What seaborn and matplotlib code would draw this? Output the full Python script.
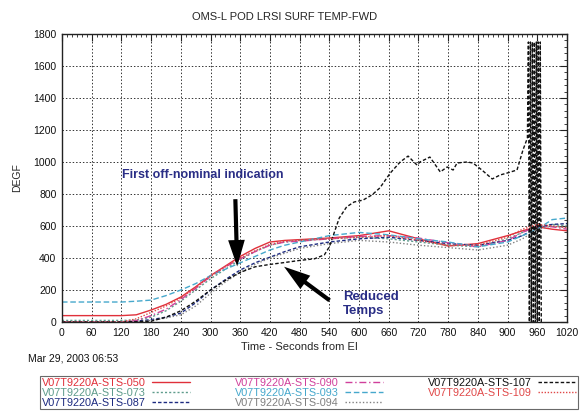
import matplotlib
matplotlib.use("Agg")
import matplotlib.pyplot as plt
from matplotlib.ticker import MultipleLocator
import seaborn as sns
import pandas as pd

sns.set_theme(style="white")
plt.rcParams['font.family'] = ['Liberation Sans', 'DejaVu Sans']

# ---------------- data ----------------
t_common = [0, 60, 120, 150, 180, 210, 240, 270, 300, 330, 360, 390, 420, 450, 480,
            540, 600, 660, 720, 780, 840, 900, 930, 960, 990, 1020]
sts050 = [40, 40, 40, 45, 75, 110, 156, 220, 290, 350, 410, 460, 500, 510, 515,
          525, 540, 570, 520, 475, 490, 540, 570, 595, 580, 570]
sts073 = [10, 10, 10, 12, 30, 70, 130, 200, 270, 330, 390, 440, 480, 500, 510,
          520, 530, 520, 500, 480, 470, 520, 560, 600, 610, 600]
sts087 = [0, 0, 0, 5, 15, 30, 56, 120, 200, 265, 325, 370, 405, 440, 470,
          500, 520, 530, 510, 490, 480, 510, 540, 590, 610, 615]
sts090 = [0, 0, 0, 8, 40, 80, 140, 210, 285, 345, 395, 440, 480, 500, 505,
          520, 535, 540, 525, 495, 470, 510, 560, 600, 595, 580]
sts093 = [125, 125, 125, 130, 137, 165, 200, 240, 290, 330, 370, 410, 450, 480, 500,
          540, 560, 545, 520, 500, 470, 500, 540, 580, 640, 650]
sts094 = [0, 0, 0, 0, 10, 25, 45, 100, 180, 250, 310, 360, 400, 430, 460,
          490, 510, 500, 480, 465, 450, 480, 520, 580, 600, 590]
sts109 = [0, 0, 0, 20, 60, 100, 150, 215, 285, 345, 400, 445, 485, 505, 510,
          520, 530, 540, 510, 480, 480, 530, 580, 610, 600, 590]

t107 = [0, 60, 120, 180, 210, 240, 270, 300, 330, 360, 390, 420, 450, 480, 510, 530,
        540, 550, 560, 575, 590, 608, 626, 642, 663, 683, 699, 717, 723, 743, 757,
        764, 778, 790, 798, 818, 830, 848, 869, 885, 899, 919, 931, 940,
        942, 944, 946, 948, 950, 952, 954, 956, 958, 960, 962, 964, 966, 968]
sts107 = [0, 0, 0, 5, 30, 70, 130, 200, 260, 310, 345, 360, 372, 385, 395, 420,
          470, 560, 650, 720, 750, 762, 794, 838, 931, 1000, 1037, 981, 1000, 1031, 969,
          938, 969, 950, 994, 1000, 994, 950, 894, 919, 931, 950, 1075, 1150,
          1750, 0, 1750, 0, 1750, 0, 1750, 0, 1750, 0, 1750, 0, 1750, 0]

labels = ["V07T9220A-STS-050", "V07T9220A-STS-073", "V07T9220A-STS-087",
          "V07T9220A-STS-090", "V07T9220A-STS-093", "V07T9220A-STS-094",
          "V07T9220A-STS-107", "V07T9220A-STS-109"]
x_ticks = list(range(0, 1021, 60))
y_ticks = list(range(0, 1801, 200))

# ---------------- styles ----------------
styles = {
    "V07T9220A-STS-050": dict(color="#e0303a", ls="-", lw=1.0),
    "V07T9220A-STS-073": dict(color="#5f9c8c", ls=(0, (1.5, 1.5)), lw=1.0),
    "V07T9220A-STS-087": dict(color="#1c2a80", ls=(0, (2.5, 1.5)), lw=1.0),
    "V07T9220A-STS-090": dict(color="#d0409c", ls=(0, (5, 2, 1, 2)), lw=1.0),
    "V07T9220A-STS-093": dict(color="#46a8cc", ls=(0, (4, 2)), lw=1.0),
    "V07T9220A-STS-094": dict(color="#808080", ls=(0, (1, 1.5)), lw=1.0),
    "V07T9220A-STS-107": dict(color="#111111", ls=(0, (2.5, 1.5)), lw=1.0),
    "V07T9220A-STS-109": dict(color="#e04848", ls=(0, (1, 1.2)), lw=1.0),
}

series = {
    "V07T9220A-STS-050": (t_common, sts050),
    "V07T9220A-STS-073": (t_common, sts073),
    "V07T9220A-STS-087": (t_common, sts087),
    "V07T9220A-STS-090": (t_common, sts090),
    "V07T9220A-STS-093": (t_common, sts093),
    "V07T9220A-STS-094": (t_common, sts094),
    "V07T9220A-STS-107": (t107, sts107),
    "V07T9220A-STS-109": (t_common, sts109),
}

fig = plt.figure(figsize=(5.83, 4.11), dpi=100)
fig.patch.set_facecolor("white")
ax = fig.add_axes([0.1063, 0.2165, 0.8663, 0.7008])
ax.set_facecolor("white")

for name in labels:
    tx, vy = series[name]
    df = pd.DataFrame({"t": tx, "v": vy})
    st = styles[name]
    sns.lineplot(data=df, x="t", y="v", ax=ax, color=st["color"], linestyle=st["ls"],
                 linewidth=st["lw"], estimator=None, sort=False, label=name, legend=False)

ax.set_xlim(0, 1020)
ax.set_ylim(0, 1800)
ax.set_xticks(x_ticks)
ax.set_yticks(y_ticks)
ax.xaxis.set_minor_locator(MultipleLocator(10))
ax.yaxis.set_minor_locator(MultipleLocator(40))
ax.tick_params(which="both", direction="in", top=True, right=True, colors="#222222",
               labelcolor="#111111")
ax.tick_params(which="major", length=5, width=0.8, labelsize=7.5, pad=4)
ax.tick_params(which="minor", length=2.5, width=0.6)
ax.grid(True, which="major", color="#333333", linestyle=(0, (1.5, 2)), linewidth=0.7)
for s in ax.spines.values():
    s.set_color("#222222")
    s.set_linewidth(1.0)

ax.set_xlabel("Time - Seconds from EI", fontsize=8, labelpad=3, x=0.47)
ax.set_ylabel("DEGF", fontsize=7.5, labelpad=8)
ax.set_title("OMS-L POD LRSI SURF TEMP-FWD", fontsize=8, pad=10, x=0.44)

# annotations
ax.text(285, 919, "First off-nominal indication", color="#2a2e86", fontsize=9,
        fontweight="bold", ha="center", va="center")
ax.annotate("", xy=(354, 330), xytext=(350, 785),
            arrowprops=dict(arrowstyle="simple,head_width=1.2,head_length=1.9,tail_width=0.3",
                            mutation_scale=10, color="black", lw=0))
ax.annotate("", xy=(444, 356), xytext=(545, 125),
            arrowprops=dict(arrowstyle="simple,head_width=1.2,head_length=1.9,tail_width=0.3",
                            mutation_scale=10, color="black", lw=0))
ax.text(568, 112, "Reduced\nTemps", color="#2a2e86", fontsize=9.5, fontweight="bold",
        ha="left", va="center", linespacing=1.15)

fig.text(28 / 583, 1 - 358 / 411, "Mar 29, 2003 06:53", fontsize=7.5, va="center",
         ha="left", color="#111111")

handles, labs = ax.get_legend_handles_labels()
order = [labs.index(n) for n in labels]
handles = [handles[i] for i in order]
labs = [labs[i] for i in order]
leg = fig.legend(handles, labs, ncol=3, loc="upper left",
                 bbox_to_anchor=(40 / 583, 0, 538 / 583, 1 - 376 / 411), mode="expand",
                 markerfirst=False, fontsize=7.8, frameon=True, fancybox=False,
                 edgecolor="#444444", borderaxespad=0, handlelength=3.5,
                 labelspacing=0.0, columnspacing=1.0, borderpad=0.15,
                 handletextpad=0.6)
leg.get_frame().set_linewidth(0.8)
for txt, name in zip(leg.get_texts(), labs):
    c = styles[name]["color"]
    txt.set_color(c)

fig.savefig("out.png", dpi=100, facecolor="white")
